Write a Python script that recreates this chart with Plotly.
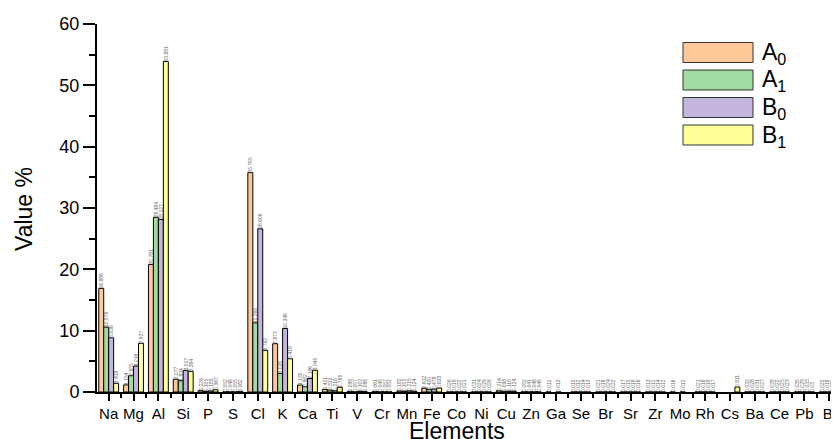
import plotly.graph_objects as go

elements = ["Na", "Mg", "Al", "Si", "P", "S", "Cl", "K", "Ca", "Ti", "V", "Cr", "Mn", "Fe", "Co",
            "Ni", "Cu", "Zn", "Ga", "Se", "Br", "Sr", "Zr", "Mo", "Rh", "Cs", "Ba", "Ce", "Pb", "Bi"]

A0 = [16.886, 1.154, 20.781, 2.077, 0.226, 0.052, 35.765, 7.873, 1.135, 0.421, 0.098, 0.061, 0.182, 0.612, 0.026,
      0.031, 0.214, 0.052, 0.011, 0.015, 0.021, 0.017, 0.013, 0.016, 0.021, None, 0.032, 0.028, 0.035, 0.022]
A1 = [10.576, 2.655, 28.484, 1.834, 0.105, 0.048, 11.268, 3.026, 0.862, 0.312, 0.057, 0.045, 0.105, 0.425, 0.019,
      0.024, 0.098, 0.041, None, 0.012, 0.018, 0.015, 0.011, None, 0.018, None, 0.028, 0.022, 0.029, 0.018]
B0 = [8.836, 4.216, 28.127, 3.517, 0.183, 0.055, 26.606, 10.346, 2.196, 0.218, 0.102, 0.057, 0.215, 0.478, 0.022,
      0.029, 0.119, 0.048, 0.013, 0.014, 0.024, 0.019, 0.014, 0.012, 0.019, None, 0.031, 0.025, 0.033, 0.021]
B1 = [1.418, 7.937, 53.881, 3.364, 0.367, 0.062, 6.782, 5.419, 3.545, 0.765, 0.088, 0.052, 0.124, 0.633, 0.021,
      0.026, 0.124, 0.045, None, 0.013, 0.022, 0.016, 0.012, None, 0.017, 0.811, 0.027, 0.023, 0.030, 0.019]

series_names = ["A<sub>0</sub>", "A<sub>1</sub>", "B<sub>0</sub>", "B<sub>1</sub>"]
series_values = [A0, A1, B0, B1]
colors = ["#FFC898", "#A2DBA2", "#C4B5DD", "#FFFF99"]

y_ticks = [0, 10, 20, 30, 40, 50, 60]

# page body has an 8px margin: size the figure so it fills the 839x439 window from (8, 8)
OFF = 8
W, H = 839 - OFF, 439 - OFF
ML, MR, MT, MB = 97 - OFF, 0, 24 - OFF, 47
PW, PH = W - ML - MR, H - MT - MB

x_idx = list(range(len(elements)))

fig = go.Figure()
for name, vals, col in zip(series_names, series_values, colors):
    fig.add_trace(go.Bar(
        x=x_idx, y=vals, name=name,
        marker=dict(color=col, line=dict(color="black", width=1)),
        text=["" if v is None else str(v) for v in vals],
        textposition="outside", textangle=-90,
        textfont=dict(size=5, color="#666666", family="Liberation Sans, Arial"),
        cliponaxis=False, constraintext="none", showlegend=False,
    ))

fig.update_layout(
    width=W, height=H,
    margin=dict(l=ML, r=MR, t=MT, b=MB, pad=0, autoexpand=False),
    paper_bgcolor="white", plot_bgcolor="white",
    barmode="group", bargap=0.2, bargroupgap=0.0,
    font=dict(family="Liberation Sans, Arial", color="black"),
    uniformtext=dict(mode=False),
)

fig.update_xaxes(
    range=[-0.47, 29.39], automargin=False,
    tickmode="array", tickvals=x_idx, ticktext=elements,
    showline=True, linecolor="black", linewidth=2,
    ticks="outside", ticklen=7, tickwidth=2, tickcolor="black",
    tickfont=dict(size=15, color="black"),
    minor=dict(ticks="outside", ticklen=4, tickwidth=1.5, tickcolor="black", tick0=0.5, dtick=1),
    showgrid=False, zeroline=False,
)
fig.update_yaxes(
    range=[0, 60], automargin=False,
    tickmode="array", tickvals=y_ticks,
    showline=True, linecolor="black", linewidth=2,
    ticks="outside", ticklen=12, tickwidth=2, tickcolor="black",
    tickfont=dict(size=18, color="black"),
    minor=dict(ticks="outside", ticklen=6, tickwidth=1.5, tickcolor="black", tick0=5, dtick=10),
    showgrid=False, zeroline=False,
)

# convert window pixel positions into paper coordinates
def px_x(p):
    return (p - OFF - ML) / PW

def px_y(p):
    return (H - MB - (p - OFF)) / PH

# axis titles
fig.add_annotation(text="Elements", x=px_x(457), y=px_y(431), xref="paper", yref="paper",
                   showarrow=False, font=dict(size=23, color="black"), xanchor="center", yanchor="middle")
fig.add_annotation(text="Value %", x=px_x(24), y=px_y(209), xref="paper", yref="paper",
                   showarrow=False, textangle=-90, font=dict(size=23, color="black"),
                   xanchor="center", yanchor="middle")

# legend drawn as boxes + labels
box_x0, box_x1 = 683, 753
box_top0, box_h, box_step = 42.5, 20, 27.5
for i, (name, col) in enumerate(zip(series_names, colors)):
    top = box_top0 + i * box_step
    fig.add_shape(type="rect", xref="paper", yref="paper",
                  x0=px_x(box_x0), x1=px_x(box_x1), y0=px_y(top + box_h), y1=px_y(top),
                  fillcolor=col, line=dict(color="#333333", width=1))
    fig.add_annotation(text=name, x=px_x(760), y=px_y(top + box_h / 2 + 1), xref="paper", yref="paper",
                       showarrow=False, xanchor="left", yanchor="middle",
                       font=dict(size=23, color="black"))

fig.write_html("out.html")
